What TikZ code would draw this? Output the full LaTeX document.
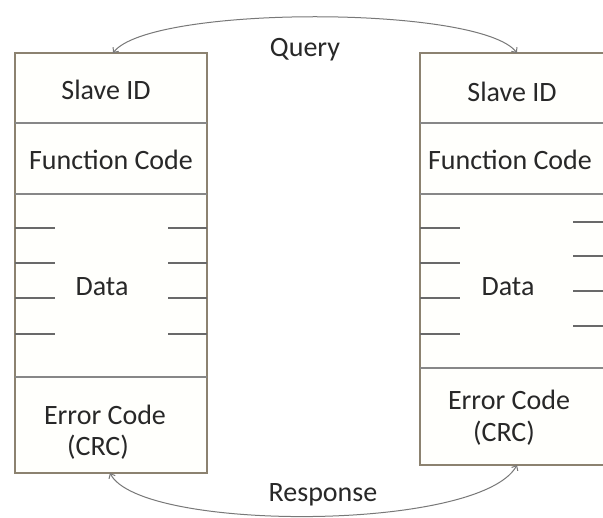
\documentclass[tikz,border=0pt]{standalone}
\usepackage{fontspec}
\setmainfont{Carlito}
\usetikzlibrary{arrows.meta}
\definecolor{frame}{RGB}{140,130,112}
\definecolor{rule}{RGB}{135,135,135}
\definecolor{tick}{RGB}{105,105,105}
\definecolor{arc}{RGB}{120,120,120}
\definecolor{ink}{RGB}{40,40,40}
\definecolor{paper}{RGB}{255,255,252}
\tikzset{
  frame box/.style={draw=frame, line width=2pt, fill=paper},
  divider/.style={draw=rule, line width=1.6pt},
  dash tick/.style={draw=tick, line width=1.3pt},
  label/.style={text=ink, inner sep=0pt, font=\fontsize{28}{33}\selectfont},
  flow/.style={draw=arc, line width=1pt, {Straight Barb[length=4pt,width=7pt]}-{Straight Barb[length=4pt,width=7pt]}}
}
\begin{document}
\begin{tikzpicture}[x=1pt,y=-1pt]
\useasboundingbox (0,0) rectangle (603,518);
\clip (0,0) rectangle (603,518);
\fill[white] (0,0) rectangle (603,518);

% master frame (left)
\path[frame box] (15,53) rectangle (207,473);
\draw[divider] (15,123) -- (207,123);
\draw[divider] (15,194) -- (207,194);
\draw[divider] (15,377) -- (207,377);
\foreach \y in {228,263,298,334} {
  \draw[dash tick] (15,\y) -- (55,\y);
  \draw[dash tick] (168,\y) -- (207,\y);
}

% slave frame (right)
\path[frame box] (420,53) rectangle (612,465);
\draw[divider] (420,123) -- (612,123);
\draw[divider] (420,194) -- (612,194);
\draw[divider] (420,368) -- (612,368);
\foreach \y in {228,263,298,334} {
  \draw[dash tick] (420,\y) -- (460,\y);
}
\foreach \y in {222,256,291,326} {
  \draw[dash tick] (573,\y) -- (612,\y);
}

% field labels
\node[label] (lid)  at (106,90)  {Slave ID};
\node[label] (lfc)  at (111,160) {Function Code};
\node[label] (ldat) at (102,287) {Data};
\node[label] (lerr) at (105,415) {Error Code};
\node[label] (lcrc) at (98,447)  {(CRC)};

\node[label] (rid)  at (512,92)  {Slave ID};
\node[label] (rfc)  at (510,160) {Function Code};
\node[label] (rdat) at (508,287) {Data};
\node[label] (rerr) at (509,400) {Error Code};
\node[label] (rcrc) at (504,433) {(CRC)};

% exchange arcs
\coordinate (qL) at (113,53);
\coordinate (qR) at (517,53);
\coordinate (sL) at (110,473);
\coordinate (sR) at (517,465);
\draw[flow] (qL) .. controls (150,5) and (480,5) .. (qR);
\draw[flow] (sL) .. controls (140,532) and (480,532) .. (sR);

\node[label] (query) at (305,50)  {Query};
\node[label] (resp)  at (323,495) {Response};
\end{tikzpicture}
\end{document}
